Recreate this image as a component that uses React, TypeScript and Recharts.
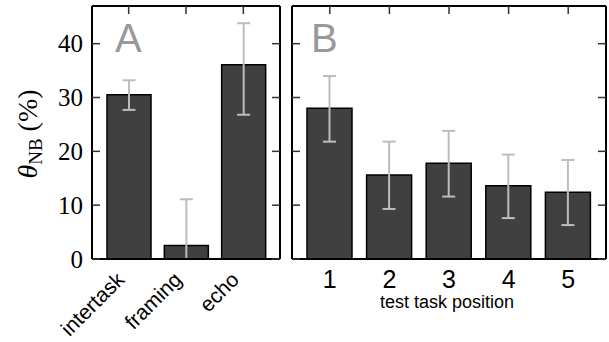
import { Bar, BarChart, ErrorBar, XAxis, YAxis } from 'recharts';

// panel A: by condition
const categoriesA = ['intertask', 'framing', 'echo'];
const valuesA = [30.5, 2.5, 36.1];
const lowA = [27.7, -6.0, 26.8];
const highA = [33.2, 11.1, 43.8];

// panel B: by test task position
const categoriesB = ['1', '2', '3', '4', '5'];
const valuesB = [28.0, 15.6, 17.8, 13.6, 12.4];
const lowB = [21.8, 9.3, 11.6, 7.6, 6.3];
const highB = [34.0, 21.8, 23.8, 19.4, 18.4];

const yTicks = [0, 10, 20, 30, 40];
const yDomain: [number, number] = [0, 47];

// error bars are cut at the bottom of the axes, like the original
const build = (cats: string[], vals: number[], lo: number[], hi: number[]) =>
  cats.map((name, i) => ({
    name,
    value: vals[i],
    err: [vals[i] - Math.max(lo[i], yDomain[0]), hi[i] - vals[i]],
  }));

const dataA = build(categoriesA, valuesA, lowA, highA);
const dataB = build(categoriesB, valuesB, lowB, highB);

const frame = { stroke: '#000', strokeWidth: 2 };
const tickLn = { stroke: '#333', strokeWidth: 1.5 };
const sans = "'Liberation Sans', Arial, sans-serif";
const serif = "'Liberation Serif', 'Times New Roman', serif";

// bottom ticks get y = axis + tickSize + tickMargin = axis + 2
const RotTick = ({ x, y, payload }: any) => (
  <g transform={`translate(${x - 3},${y + 20}) rotate(-45)`}>
    <text x={0} y={0} textAnchor="end" fontFamily={sans} fontSize={21} fill="#000">
      {payload.value}
    </text>
  </g>
);

const NumTick = ({ x, y, payload }: any) => (
  <text x={x} y={y + 27} textAnchor="middle" fontFamily={sans} fontSize={25} fill="#000">
    {payload.value}
  </text>
);

const YTick = ({ x, y, payload }: any) => (
  <text x={x} y={y} dy="0.34em" textAnchor="end" fontFamily={serif} fontSize={25} fill="#000">
    {payload.value}
  </text>
);

const NoLabel = () => <g />;

function Bars({ size }: { size: number }) {
  return (
    <Bar dataKey="value" fill="#404040" stroke="#000" strokeWidth={1.5} barSize={size} isAnimationActive={false}>
      <ErrorBar dataKey="err" width={6.5} stroke="#bdbdbd" strokeWidth={2} />
    </Bar>
  );
}

// top and right axes only carry the frame line and the inward ticks
function FrameAxes({ pad }: { pad: number }) {
  return [
    <XAxis key="t" xAxisId="top" orientation="top" dataKey="name" height={1} padding={{ left: pad, right: pad }} interval={0}
      axisLine={frame} tickLine={tickLn} tickSize={-8} tick={NoLabel} />,
    <YAxis key="r" yAxisId="r" orientation="right" width={1} domain={yDomain} ticks={yTicks} allowDataOverflow interval={0}
      axisLine={frame} tickLine={tickLn} tickSize={-8} tick={NoLabel} />,
  ];
}

export default function App() {
  return (
    <div style={{ position: 'absolute', left: 0, top: 0, width: 609, height: 342, background: '#fff' }}>
      <div style={{ position: 'absolute', left: 0, top: 0 }}>
        <BarChart width={290} height={342} data={dataA} margin={{ top: 5, right: 9, left: 0, bottom: 0 }}>
          <XAxis dataKey="name" height={83} padding={{ left: 8, right: 8 }} interval={0}
            axisLine={frame} tickLine={false} tickSize={1} tickMargin={1} tick={<RotTick />} />
          <YAxis width={92} domain={yDomain} ticks={yTicks} allowDataOverflow interval={0}
            axisLine={frame} tickLine={tickLn} tickSize={-8} tickMargin={17} tick={<YTick />} />
          {FrameAxes({ pad: 8 })}
          {Bars({ size: 44 })}
        </BarChart>
      </div>
      <div style={{ position: 'absolute', left: 282, top: 0 }}>
        <BarChart width={327} height={342} data={dataB} margin={{ top: 5, right: 2, left: 9, bottom: 0 }}>
          <XAxis dataKey="name" height={83} padding={{ left: 8, right: 8 }} interval={0}
            axisLine={frame} tickLine={false} tickSize={1} tickMargin={1} tick={<NumTick />} />
          <YAxis width={1} domain={yDomain} ticks={yTicks} allowDataOverflow interval={0}
            axisLine={frame} tickLine={tickLn} tickSize={-8} tick={NoLabel} />
          {FrameAxes({ pad: 8 })}
          {Bars({ size: 45 })}
        </BarChart>
      </div>
      <svg width={609} height={342} style={{ position: 'absolute', left: 0, top: 0, pointerEvents: 'none' }}>
        <text x={115} y={52} fontFamily={sans} fontSize={40} fill="#999">A</text>
        <text x={311} y={52} fontFamily={sans} fontSize={40} fill="#999">B</text>
        <text x={447} y={308} textAnchor="middle" fontFamily={sans} fontSize={18} fill="#000">test task position</text>
        <text x={37} y={134} transform="rotate(-90 37 134)" textAnchor="middle" fontFamily={serif} fontSize={28} fill="#000">
          <tspan fontStyle="italic">θ</tspan>
          <tspan fontSize={19} dy={5}>NB</tspan>
          <tspan dy={-5}> (%)</tspan>
        </text>
      </svg>
    </div>
  );
}
